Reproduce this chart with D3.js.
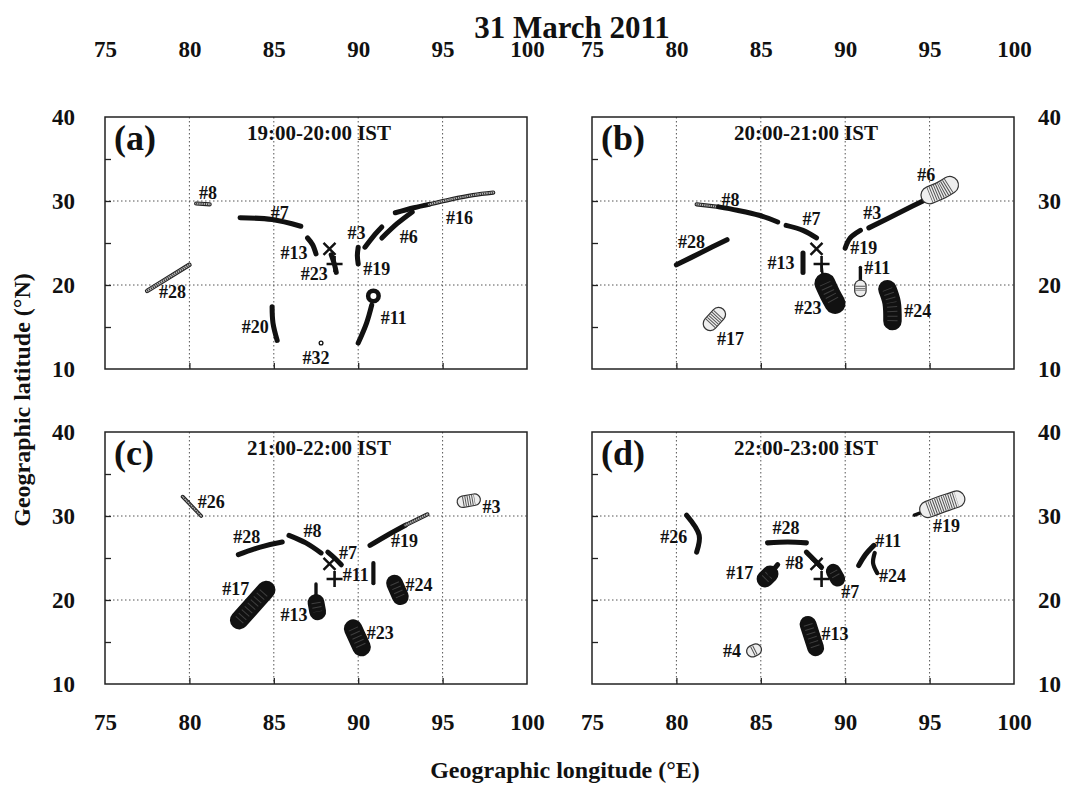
<!DOCTYPE html>
<html>
<head>
<meta charset="utf-8">
<script src="https://cdn.jsdelivr.net/npm/d3@7.9.0/dist/d3.min.js"></script>
<style>
  body { margin: 0; background: #fff; }
  svg text { font-family: 'Liberation Serif', 'Times New Roman', serif; font-weight: bold; fill: #111; }
</style>
</head>
<body>
<svg id="chart" width="1065" height="785"></svg>
<script>
// axis ticks
const lonTicks = [75, 80, 85, 90, 95, 100];
const latTicks = [10, 20, 30, 40];
const lonGrid = [80, 85, 90, 95];
const latGrid = [20, 30];
const latMinor = [15, 20, 25, 30, 35];

const panelNames = ['(a)', '(b)', '(c)', '(d)'];
const panelTimes = ['19:00-20:00 IST', '20:00-21:00 IST', '21:00-22:00 IST', '22:00-23:00 IST'];

// station markers
const crossPos = [88.3, 24.3];
const plusPos = [88.6, 22.5];

// track segments: [key, [[lon, lat], ...], cloud size (deg)]
const tracksA = [
  ['28', [[77.5, 19.3], [80.0, 22.4]], 0.55],
  ['8', [[80.4, 29.7], [81.2, 29.6]], 0.5],
  ['7', [[83.0, 28.0], [84.9, 27.8], [86.6, 27.0]], 0.6],
  ['13', [[87.0, 25.6], [87.3, 24.8], [87.5, 23.7]], 0.6],
  ['23', [[88.4, 23.6], [88.6, 22.4], [88.7, 21.5]], 0.6],
  ['3', [[90.4, 24.5], [90.9, 25.8], [91.4, 26.9]], 0.6],
  ['19', [[90.0, 24.5], [89.95, 23.5], [90.0, 22.5]], 0.6],
  ['6', [[91.4, 25.6], [92.3, 27.3], [93.2, 28.7]], 0.6],
  ['16', [[92.2, 28.6], [93.3, 29.2], [94.2, 29.6]], 0.6],
  ['16r', [[94.2, 29.6], [95.5, 30.2], [96.8, 30.7], [98.0, 31.0]], 0.5],
  ['11', [[90.0, 13.1], [90.5, 15.5], [90.8, 17.6]], 0.6],
  ['11o', [[90.9, 18.7]], 1.25],
  ['20', [[84.9, 17.4], [84.95, 15.5], [85.2, 13.4]], 0.6],
  ['32', [[87.8, 13.1]], 0.45]
];
const tracksB = [
  ['8r', [[81.2, 29.6], [82.5, 29.3]], 0.5],
  ['8', [[82.5, 29.3], [83.6, 28.9], [84.9, 28.3], [86.0, 27.5]], 0.6],
  ['7', [[86.5, 27.1], [87.5, 26.5], [88.3, 25.6]], 0.6],
  ['28', [[80.0, 22.4], [81.5, 23.9], [83.0, 25.4]], 0.6],
  ['13', [[87.5, 23.8], [87.5, 21.5]], 0.6],
  ['23l', [[88.6, 22.3], [88.7, 20.4]], 0.3],
  ['23', [[88.8, 20.2], [89.1, 18.9], [89.4, 17.8]], 2.5],
  ['19', [[90.0, 24.4], [90.3, 25.6], [90.9, 26.5]], 0.6],
  ['3', [[91.4, 26.8], [93.2, 28.6], [95.0, 30.4]], 0.6],
  ['6', [[95.0, 30.7], [95.7, 31.3], [96.2, 31.9]], 2.2],
  ['11l', [[90.9, 22.1], [90.9, 20.2]], 0.4],
  ['11', [[90.9, 19.9], [90.9, 19.3]], 1.5],
  ['24', [[92.5, 19.5], [92.75, 17.9], [92.8, 15.7]], 2.2],
  ['17', [[82.0, 15.4], [82.5, 16.5]], 1.8]
];
const tracksC = [
  ['26', [[79.6, 32.3], [80.7, 30.0]], 0.45],
  ['3', [[96.2, 31.7], [96.9, 31.95]], 1.5],
  ['19', [[90.7, 26.5], [91.8, 27.8], [92.8, 28.9]], 0.6],
  ['19r', [[92.8, 28.9], [94.1, 30.2]], 0.5],
  ['28', [[82.9, 25.4], [84.2, 26.3], [85.5, 26.9]], 0.6],
  ['8', [[85.9, 27.7], [86.9, 26.8], [87.8, 25.6]], 0.6],
  ['7', [[88.2, 25.7], [88.6, 25.0], [89.0, 24.2]], 0.6],
  ['11', [[90.9, 24.4], [90.9, 22.0]], 0.5],
  ['24', [[92.15, 22.0], [92.5, 20.4]], 2.0],
  ['17', [[82.95, 17.6], [84.55, 21.2]], 2.2],
  ['13l', [[87.5, 21.9], [87.5, 20.2]], 0.4],
  ['13', [[87.5, 19.7], [87.6, 18.6]], 2.0],
  ['23', [[89.7, 16.6], [90.2, 14.4]], 2.2]
];
const tracksD = [
  ['26', [[80.6, 30.1], [81.35, 27.7], [81.2, 25.7]], 0.6],
  ['28', [[85.4, 26.8], [86.6, 26.9], [87.7, 26.8]], 0.6],
  ['8', [[87.7, 25.7], [88.6, 23.9]], 0.6],
  ['7', [[89.3, 23.4], [89.55, 22.5]], 1.8],
  ['17', [[85.25, 22.5], [85.55, 23.1]], 2.0],
  ['17l', [[85.55, 23.1], [86.0, 24.2]], 0.6],
  ['11', [[90.8, 24.1], [91.2, 25.4], [91.7, 26.5]], 0.6],
  ['24', [[91.75, 25.6], [91.65, 24.4], [91.9, 23.2]], 0.5],
  ['19l', [[94.1, 30.1], [94.9, 30.7]], 0.4],
  ['19', [[94.9, 30.8], [96.0, 31.6], [96.6, 32.0]], 2.1],
  ['13', [[87.8, 17.1], [88.25, 14.3]], 2.0],
  ['4', [[84.5, 13.9], [84.7, 14.1]], 1.5]
];

// segments drawn as open ring chains
const openRings = ['a28', 'a8', 'a16r', 'a32', 'b8r', 'b6', 'b11', 'b17', 'c26', 'c3', 'c19r', 'd19', 'd4'];

// track labels: [text, lon, lat]
const labelsA = [
  ['#28', 79.0, 19.2], ['#8', 81.1, 31.0], ['#7', 85.35, 28.6], ['#13', 86.2, 23.8],
  ['#23', 87.4, 21.4], ['#3', 89.9, 26.2], ['#19', 91.1, 22.0], ['#6', 93.0, 25.8],
  ['#16', 96.0, 28.0], ['#11', 92.1, 16.1], ['#20', 83.9, 15.0], ['#32', 87.5, 11.4]
];
const labelsB = [
  ['#8', 83.2, 30.1], ['#7', 88.0, 27.9], ['#28', 80.9, 25.1], ['#13', 86.2, 22.6],
  ['#23', 87.8, 17.3], ['#19', 91.1, 24.4], ['#3', 91.6, 28.6], ['#6', 94.8, 33.1],
  ['#11', 91.9, 22.1], ['#24', 94.3, 17.0], ['#17', 83.2, 13.6]
];
const labelsC = [
  ['#26', 81.3, 31.7], ['#3', 97.9, 31.1], ['#19', 92.75, 27.1], ['#28', 83.4, 27.5],
  ['#8', 87.3, 28.3], ['#7', 89.4, 25.6], ['#11', 89.85, 23.0], ['#24', 93.6, 21.8],
  ['#17', 82.75, 21.4], ['#13', 86.2, 18.2], ['#23', 91.3, 16.1]
];
const labelsD = [
  ['#26', 79.85, 27.5], ['#28', 86.5, 28.6], ['#8', 87.0, 24.5], ['#7', 90.3, 21.0],
  ['#17', 83.75, 23.3], ['#11', 92.55, 27.1], ['#24', 92.8, 22.9], ['#19', 96.0, 28.8],
  ['#13', 89.4, 16.0], ['#4', 83.3, 14.0]
];

const svg = d3.select('#chart');
const W = 422, H = 252;
const panels = [
  { id: 'a', x0: 105, y0: 117, tracks: tracksA, labels: labelsA, left: true, top: true },
  { id: 'b', x0: 592, y0: 117, tracks: tracksB, labels: labelsB, left: false, top: true },
  { id: 'c', x0: 105, y0: 432, tracks: tracksC, labels: labelsC, left: true, top: false },
  { id: 'd', x0: 592, y0: 432, tracks: tracksD, labels: labelsD, left: false, top: false }
];

svg.append('text')
  .attr('x', 572).attr('y', 38)
  .attr('text-anchor', 'middle')
  .style('font-size', '31px')
  .text('31 March 2011');

svg.append('text')
  .attr('x', 565).attr('y', 778)
  .attr('text-anchor', 'middle')
  .style('font-size', '24px')
  .text('Geographic longitude (°E)');

svg.append('text')
  .attr('transform', 'translate(30,400) rotate(-90)')
  .attr('text-anchor', 'middle')
  .style('font-size', '24px')
  .text('Geographic latitude (°N)');

panels.forEach((p, i) => {
  const x = d3.scaleLinear().domain([75, 100]).range([0, W]);
  const y = d3.scaleLinear().domain([10, 40]).range([H, 0]);
  const pxPerDeg = y(10) - y(11);
  const g = svg.append('g').attr('transform', `translate(${p.x0},${p.y0})`);

  // dotted grid
  g.selectAll('.gx').data(lonGrid).join('line')
    .attr('x1', d => x(d)).attr('x2', d => x(d))
    .attr('y1', 0).attr('y2', H)
    .attr('stroke', '#555').attr('stroke-width', 1).attr('stroke-dasharray', '1.5,2.5');
  g.selectAll('.gy').data(latGrid).join('line')
    .attr('y1', d => y(d)).attr('y2', d => y(d))
    .attr('x1', 0).attr('x2', W)
    .attr('stroke', '#555').attr('stroke-width', 1).attr('stroke-dasharray', '1.5,2.5');

  // inner ticks
  g.append('g').attr('transform', `translate(0,${H})`)
    .call(d3.axisBottom(x).tickValues(lonGrid).tickSize(-6).tickFormat(''))
    .call(a => a.select('.domain').remove())
    .selectAll('line').attr('stroke', '#222').attr('stroke-width', 1.3);
  g.append('g')
    .call(d3.axisLeft(y).tickValues(latMinor).tickSize(-6).tickFormat(''))
    .call(a => a.select('.domain').remove())
    .selectAll('line').attr('stroke', '#222').attr('stroke-width', 1.3);

  // tick labels
  if (p.top) {
    g.append('g')
      .call(d3.axisTop(x).tickValues(lonTicks).tickSize(0).tickFormat(d3.format('d')))
      .call(a => a.select('.domain').remove())
      .selectAll('text')
      .attr('y', -60).attr('dy', '0')
      .style('font-size', '23px').attr('fill', '#111');
  } else {
    g.append('g').attr('transform', `translate(0,${H})`)
      .call(d3.axisBottom(x).tickValues(lonTicks).tickSize(0).tickFormat(d3.format('d')))
      .call(a => a.select('.domain').remove())
      .selectAll('text')
      .attr('y', 46).attr('dy', '0')
      .style('font-size', '23px').attr('fill', '#111');
  }
  if (p.left) {
    g.append('g')
      .call(d3.axisLeft(y).tickValues(latTicks).tickSize(0).tickPadding(30))
      .call(a => a.select('.domain').remove())
      .selectAll('text').style('font-size', '23px').attr('fill', '#111');
  } else {
    g.append('g').attr('transform', `translate(${W},0)`)
      .call(d3.axisRight(y).tickValues(latTicks).tickSize(0).tickPadding(24))
      .call(a => a.select('.domain').remove())
      .selectAll('text').style('font-size', '23px').attr('fill', '#111');
  }

  // tracks
  const line = d3.line().x(d => x(d[0])).y(d => y(d[1])).curve(d3.curveCatmullRom);
  p.tracks.forEach(([key, pts, size]) => {
    const w = size * pxPerDeg;
    const open = openRings.includes(p.id + key);
    if (pts.length === 1) {
      g.append('circle')
        .attr('cx', x(pts[0][0])).attr('cy', y(pts[0][1]))
        .attr('r', w / 2)
        .attr('fill', '#fff')
        .attr('stroke', '#111')
        .attr('stroke-width', open ? 1.3 : 4.5);
      return;
    }
    const dStr = line(pts);
    if (open) {
      const big = w > 8;
      g.append('path').attr('d', dStr).attr('fill', 'none')
        .attr('stroke', big ? '#333' : '#222').attr('stroke-width', w).attr('stroke-linecap', 'round');
      g.append('path').attr('d', dStr).attr('fill', 'none')
        .attr('stroke', big ? '#eee' : '#bbb').attr('stroke-width', big ? w - 2.4 : w - 2.2)
        .attr('stroke-linecap', 'round');
      g.append('path').attr('d', dStr).attr('fill', 'none')
        .attr('stroke', big ? '#555' : '#333').attr('stroke-width', big ? w - 2.4 : w - 2.2)
        .attr('stroke-dasharray', big ? '1,1.3' : '1,1.2');
    } else {
      g.append('path').attr('d', dStr).attr('fill', 'none')
        .attr('stroke', '#111').attr('stroke-width', w).attr('stroke-linecap', 'round');
      if (w > 10) {
        g.append('path').attr('d', dStr).attr('fill', 'none')
          .attr('stroke', '#777').attr('stroke-opacity', 0.45)
          .attr('stroke-width', w * 0.55).attr('stroke-dasharray', '1,3.5');
      }
    }
  });

  // station markers
  const cx = x(crossPos[0]), cy = y(crossPos[1]);
  g.append('path')
    .attr('d', `M${cx - 6},${cy - 6}L${cx + 6},${cy + 6}M${cx - 6},${cy + 6}L${cx + 6},${cy - 6}`)
    .attr('stroke', '#111').attr('stroke-width', 2.4);
  const px = x(plusPos[0]), py = y(plusPos[1]);
  g.append('path')
    .attr('d', `M${px - 8},${py}L${px + 8},${py}M${px},${py - 8}L${px},${py + 8}`)
    .attr('stroke', '#111').attr('stroke-width', 2.6);

  // track labels
  g.selectAll('.lbl').data(p.labels).join('text')
    .attr('x', d => x(d[1])).attr('y', d => y(d[2]))
    .attr('text-anchor', 'middle').attr('dy', '0.35em')
    .style('font-size', '18px')
    .text(d => d[0]);

  // frame
  g.append('rect').attr('width', W).attr('height', H)
    .attr('fill', 'none').attr('stroke', '#222').attr('stroke-width', 1.5);

  // panel tag and time window
  g.append('text').attr('x', 9).attr('y', 33).style('font-size', '36px').text(panelNames[i]);
  g.append('text').attr('x', 214).attr('y', 23).attr('text-anchor', 'middle')
    .style('font-size', '21px').text(panelTimes[i]);
});
</script>
</body>
</html>
